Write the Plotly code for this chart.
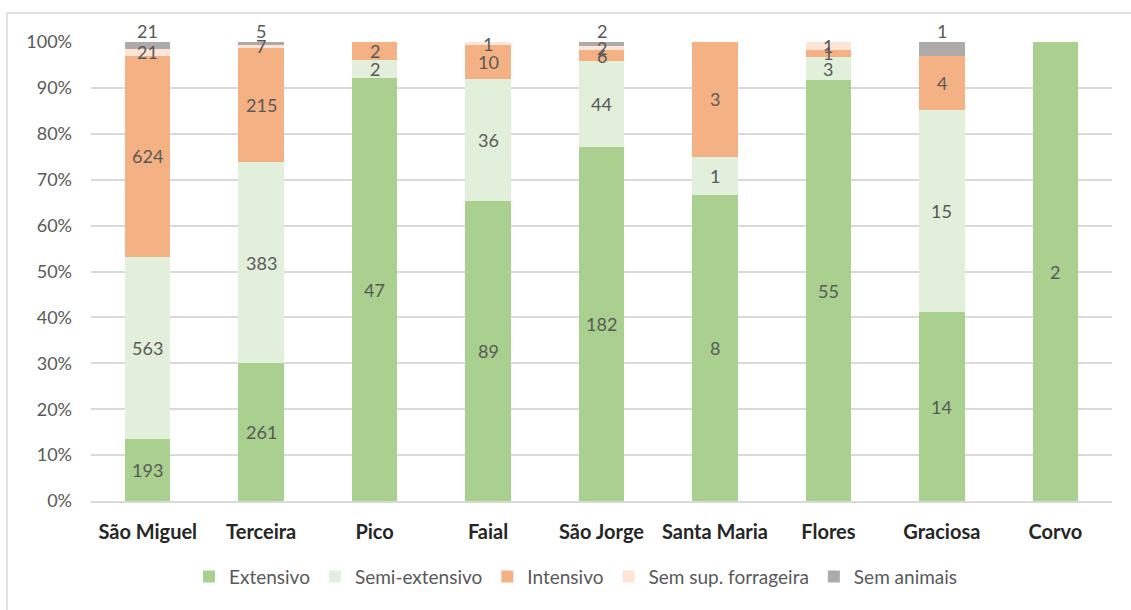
import plotly.graph_objects as go

# Farm counts by production system, per island
islands = ["São Miguel", "Terceira", "Pico", "Faial", "São Jorge",
           "Santa Maria", "Flores", "Graciosa", "Corvo"]
extensivo = [193, 261, 47, 89, 182, 8, 55, 14, 2]
semi_extensivo = [563, 383, 2, 36, 44, 1, 3, 15, 0]
intensivo = [624, 215, 2, 10, 6, 3, 1, 4, 0]
sem_sup_forrageira = [21, 7, 0, 1, 2, 0, 1, 0, 0]
sem_animais = [21, 5, 0, 0, 2, 0, 0, 1, 0]

series = [
    ("Extensivo", extensivo, "#A9D08E"),
    ("Semi-extensivo", semi_extensivo, "#E2EFDA"),
    ("Intensivo", intensivo, "#F4B183"),
    ("Sem sup. forrageira", sem_sup_forrageira, "#FCE4D6"),
    ("Sem animais", sem_animais, "#AEAAAA"),
]

FONT = "Lato, Calibri, 'Open Sans', sans-serif"
LABEL_COLOR = "#595959"
LABEL_SIZE = 18

totals = [sum(s[1][i] for s in series) for i in range(len(islands))]

fig = go.Figure()
annotations = []
base = [0.0] * len(islands)
for k, (name, vals, color) in enumerate(series):
    pct = [v / t * 100 for v, t in zip(vals, totals)]
    fig.add_trace(go.Bar(
        name=name, x=islands, y=pct, marker_color=color,
        marker_line_width=0, hoverinfo="skip",
    ))
    top_series = k == len(series) - 1
    for i, v in enumerate(vals):
        if v <= 0:
            continue
        if top_series:
            # labels of the last series sit just above the 100% line
            annotations.append(dict(
                x=islands[i], y=100, text=str(v), showarrow=False,
                yanchor="bottom", yshift=-2,
                font=dict(family=FONT, size=LABEL_SIZE, color=LABEL_COLOR)))
        else:
            annotations.append(dict(
                x=islands[i], y=base[i] + pct[i] / 2, text=str(v),
                showarrow=False, yanchor="middle",
                font=dict(family=FONT, size=LABEL_SIZE, color=LABEL_COLOR)))
    base = [b + p for b, p in zip(base, pct)]

# plot area geometry (px) used for the outer chart-area frame
W, H = 1131, 610
ml, mr, mt, mb = 91, 19, 42, 109
pw, ph = W - ml - mr, H - mt - mb
frame_x0 = (7 - ml) / pw
frame_y1 = 1 + (mt - 13) / ph

fig.update_layout(
    width=W, height=H,
    barmode="stack", bargap=0.6,
    margin=dict(l=ml, r=mr, t=mt, b=mb),
    paper_bgcolor="white", plot_bgcolor="white",
    font=dict(family=FONT, color=LABEL_COLOR),
    xaxis=dict(
        tickfont=dict(family=FONT, size=20, color="#262626", weight="bold"),
        showline=True, linecolor="#D9D9D9", linewidth=1.5,
        ticks="", showgrid=False, fixedrange=True, ticklabelstandoff=12,
    ),
    yaxis=dict(
        range=[0, 100], tickvals=list(range(0, 101, 10)),
        ticktext=[f"{v}%" for v in range(0, 101, 10)],
        tickfont=dict(family=FONT, size=18, color=LABEL_COLOR),
        showgrid=True, gridcolor="#D9D9D9", gridwidth=1.5,
        zeroline=False, showline=False, ticks="", ticklabelstandoff=18,
        fixedrange=True,
    ),
    legend=dict(
        orientation="h", x=0.475, xanchor="center", y=-0.165, yanchor="middle",
        font=dict(family=FONT, size=19, color=LABEL_COLOR),
        itemwidth=30, traceorder="normal",
    ),
    annotations=annotations,
    shapes=[dict(
        type="rect", xref="paper", yref="paper",
        x0=frame_x0, x1=1.2, y0=-0.5, y1=frame_y1,
        line=dict(color="#D9D9D9", width=1.5), fillcolor="rgba(0,0,0,0)",
        layer="below",
    )],
)

fig.write_html("out.html")
